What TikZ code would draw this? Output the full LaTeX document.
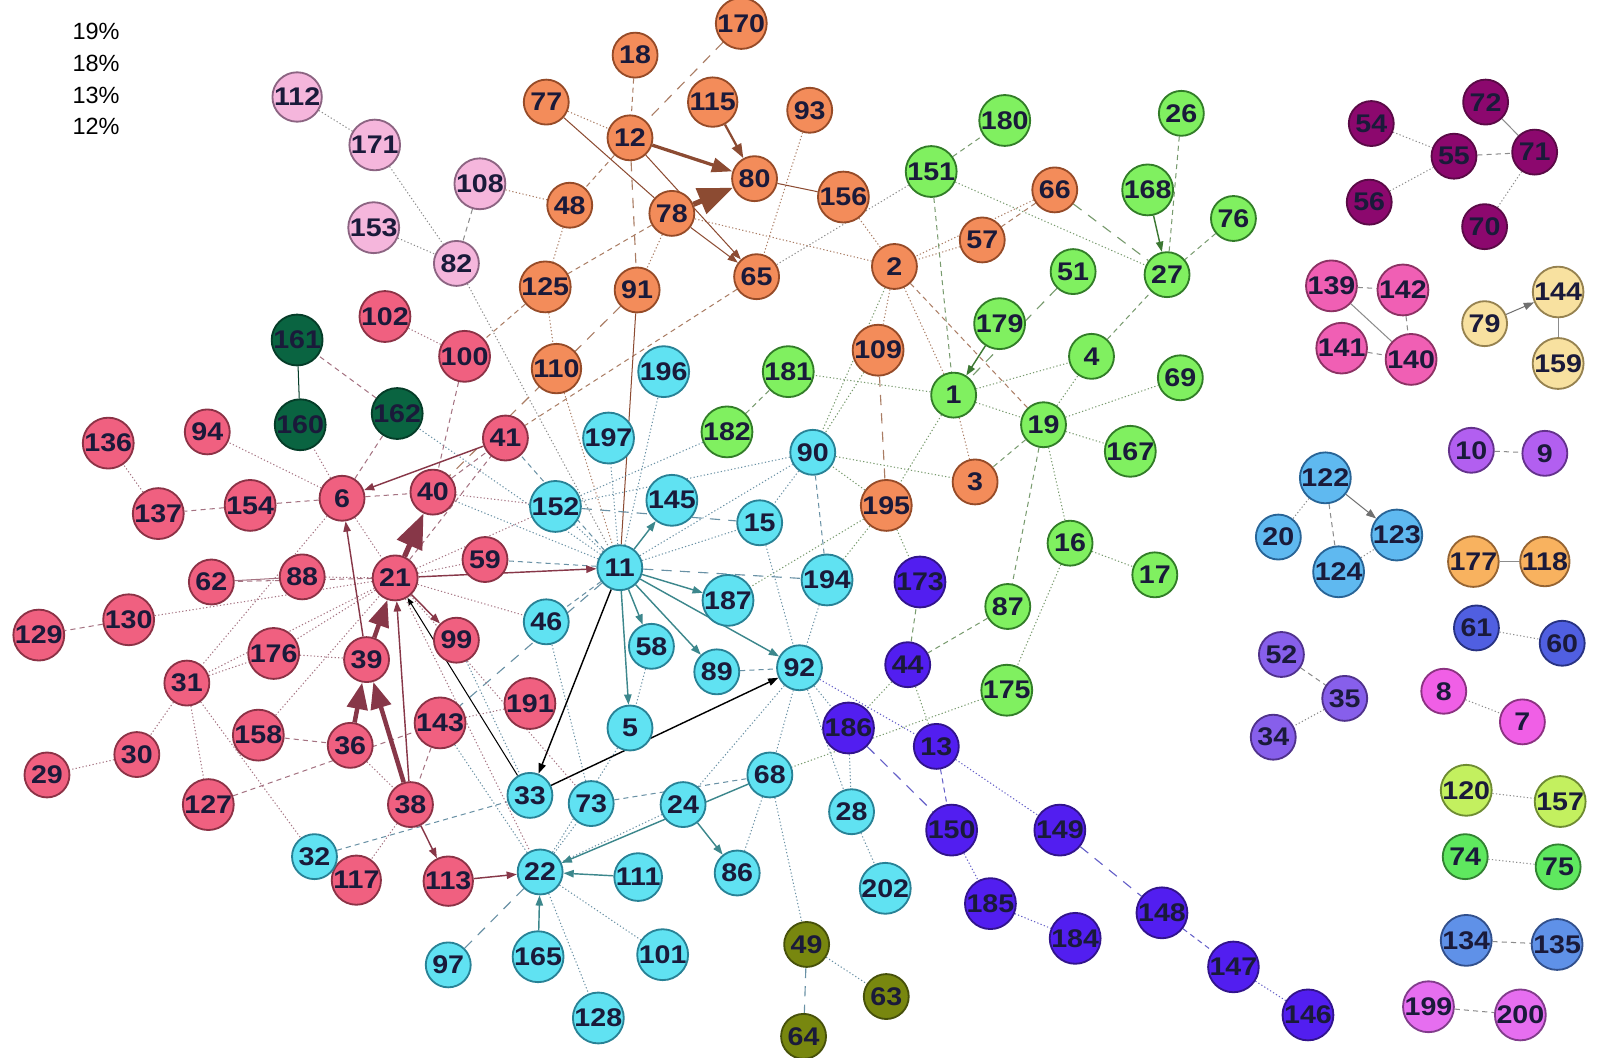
\documentclass[tikz,border=0pt]{standalone}
\usepackage{graphicx}
\usepackage{fontspec}
\setmainfont{Liberation Sans}
\usetikzlibrary{arrows.meta,backgrounds}
\definecolor{txt}{RGB}{26,26,58}
\definecolor{ora}{RGB}{243,140,90}\definecolor{orab}{RGB}{150,75,40}
\definecolor{grn}{RGB}{128,240,96}\definecolor{grnb}{RGB}{50,125,40}
\definecolor{cya}{RGB}{96,226,242}\definecolor{cyab}{RGB}{40,130,150}
\definecolor{rdp}{RGB}{240,96,128}\definecolor{rdpb}{RGB}{140,50,70}
\definecolor{lil}{RGB}{245,182,220}\definecolor{lilb}{RGB}{140,100,130}
\definecolor{dgr}{RGB}{10,100,65}\definecolor{dgrb}{RGB}{5,60,40}
\definecolor{dpu}{RGB}{140,8,110}\definecolor{dpub}{RGB}{90,10,70}
\definecolor{pnk}{RGB}{240,95,180}\definecolor{pnkb}{RGB}{140,50,100}
\definecolor{yel}{RGB}{248,225,160}\definecolor{yelb}{RGB}{150,130,80}
\definecolor{vio}{RGB}{178,95,240}\definecolor{viob}{RGB}{100,50,140}
\definecolor{sky}{RGB}{95,185,240}\definecolor{skyb}{RGB}{40,100,150}
\definecolor{lor}{RGB}{248,178,95}\definecolor{lorb}{RGB}{150,100,50}
\definecolor{blu}{RGB}{80,95,225}\definecolor{blub}{RGB}{40,50,130}
\definecolor{vit}{RGB}{135,95,235}\definecolor{vitb}{RGB}{80,50,140}
\definecolor{mag}{RGB}{240,95,230}\definecolor{magb}{RGB}{140,50,130}
\definecolor{lim}{RGB}{195,240,95}\definecolor{limb}{RGB}{110,140,50}
\definecolor{gre}{RGB}{95,232,95}\definecolor{greb}{RGB}{50,130,50}
\definecolor{crn}{RGB}{95,145,232}\definecolor{crnb}{RGB}{50,80,140}
\definecolor{mgt}{RGB}{230,110,240}\definecolor{mgtb}{RGB}{130,60,140}
\definecolor{ind}{RGB}{82,30,240}\definecolor{indb}{RGB}{50,20,140}
\definecolor{olv}{RGB}{120,135,15}\definecolor{olvb}{RGB}{70,80,10}
\definecolor{ecn}{RGB}{140,140,140}
\definecolor{ecp}{RGB}{165,115,130}
\definecolor{eco}{RGB}{170,125,100}
\definecolor{ecc}{RGB}{105,145,165}
\definecolor{ecg}{RGB}{120,155,110}
\definecolor{ecb}{RGB}{100,95,200}
\definecolor{brn}{RGB}{140,75,50}
\definecolor{mar}{RGB}{135,55,72}
\definecolor{tea}{RGB}{60,135,140}
\definecolor{dgn}{RGB}{60,120,50}
\tikzset{
 nd/.style={circle, line width=0.9pt, minimum size=22pt, inner sep=0pt, text=txt,
   font=\fontsize{12.5}{13}\selectfont\bfseries},
 dt/.style={line width=0.5pt, dash pattern=on 0.6pt off 1.1pt},
 ds/.style={line width=0.5pt, dash pattern=on 2.5pt off 2pt},
 ld/.style={line width=0.55pt, dash pattern=on 5pt off 4pt},
 sl/.style={line width=0.5pt},
 ar/.style={line width=0.7pt, -{Triangle[length=5pt,width=3.6pt]}},
 legend/.style={anchor=west, font=\fontsize{11.5}{12}\selectfont},
}
\newcommand\mknode[4]{\node[nd, fill=#1, draw=#1b] (n#2) at (#3,#4) {\scalebox{1.12}[1]{#2}};}
\begin{document}
\begin{tikzpicture}[x=0.5pt,y=-0.5pt]
\useasboundingbox (0,0) rectangle (1568,1036);
\node[legend] (leg1) at (64,31) {19\%};
\node[legend] (leg2) at (64,62) {18\%};
\node[legend] (leg3) at (64,93) {13\%};
\node[legend] (leg4) at (64,124) {12\%};
\foreach \n/\x/\y in {112/291/95,171/367/142,153/366/223,108/470/180,82/447/258} {\mknode{lil}{\n}{\x}{\y}}
\foreach \n/\x/\y in {170/726/23,18/622/54,77/535/100,115/698/100,93/793/108,12/617/135,80/739/175,48/558/201,78/658/209,156/826/193,66/1033/186,57/962/235,2/876/261,65/741/271,125/534/281,91/624/284,110/545/361,109/860/343,3/955/472,195/868/495} {\mknode{ora}{\n}{\x}{\y}}
\foreach \n/\x/\y in {180/984/118,151/912/168,26/1157/111,168/1124/186,76/1208/214,27/1143/269,51/1051/266,179/979/317,4/1069/349,69/1156/370,1/934/387,181/772/364,182/712/423,19/1022/416,167/1107/442,16/1048/532,17/1131/563,87/987/594,175/986/676} {\mknode{grn}{\n}{\x}{\y}}
\foreach \n/\x/\y in {54/1343/121,72/1455/100,55/1424/153,71/1503/149,56/1341/198,70/1454/222} {\mknode{dpu}{\n}{\x}{\y}}
\foreach \n/\x/\y in {139/1304/280,142/1374/284,141/1314/341,140/1382/352} {\mknode{pnk}{\n}{\x}{\y}}
\foreach \n/\x/\y in {144/1526/286,79/1454/317,159/1526/356} {\mknode{yel}{\n}{\x}{\y}}
\foreach \n/\x/\y in {10/1441/441,9/1513/444} {\mknode{vio}{\n}{\x}{\y}}
\foreach \n/\x/\y in {122/1298/468,20/1252/526,123/1368/524,124/1311/560} {\mknode{sky}{\n}{\x}{\y}}
\foreach \n/\x/\y in {177/1443/550,118/1513/550} {\mknode{lor}{\n}{\x}{\y}}
\foreach \n/\x/\y in {61/1446/615,60/1530/630} {\mknode{blu}{\n}{\x}{\y}}
\foreach \n/\x/\y in {52/1255/641,35/1317/684,34/1247/722} {\mknode{vit}{\n}{\x}{\y}}
\foreach \n/\x/\y in {8/1414/677,7/1491/707} {\mknode{mag}{\n}{\x}{\y}}
\foreach \n/\x/\y in {120/1436/774,157/1528/785} {\mknode{lim}{\n}{\x}{\y}}
\foreach \n/\x/\y in {74/1435/839,75/1526/849} {\mknode{gre}{\n}{\x}{\y}}
\foreach \n/\x/\y in {134/1436/921,135/1525/925} {\mknode{crn}{\n}{\x}{\y}}
\foreach \n/\x/\y in {199/1399/986,200/1489/994} {\mknode{mgt}{\n}{\x}{\y}}
\foreach \n/\x/\y in {161/291/333,160/294/416,162/389/405} {\mknode{dgr}{\n}{\x}{\y}}
\foreach \n/\x/\y in {102/377/310,100/455/349,94/203/423,136/106/434,41/495/429,6/335/488,40/424/482,154/245/495,137/155/503,59/475/548,88/296/565,21/387/566,62/207/570,130/126/607,129/38/622,99/447/627,176/268/640,39/359/646,31/183/669,191/519/689,143/431/708,158/253/720,36/343/730,30/134/739,29/46/759,127/204/788,38/402/788,117/349/862,113/439/863} {\mknode{rdp}{\n}{\x}{\y}}
\foreach \n/\x/\y in {196/650/364,197/596/429,90/796/443,152/544/496,145/658/490,15/744/512,11/607/556,187/713/588,194/810/568,46/535/609,58/638/633,89/702/658,92/783/654,5/617/713,33/519/779,73/579/787,24/669/788,68/754/759,28/834/795,32/308/839,22/529/854,111/625/859,86/722/855,202/867/870,97/439/945,165/527/937,101/649/935,128/586/997} {\mknode{cya}{\n}{\x}{\y}}
\foreach \n/\x/\y in {173/901/570,44/889/651,186/831/713,13/917/731,150/932/813,149/1038/813,185/970/885,184/1053/919,148/1138/894,147/1208/947,146/1281/994} {\mknode{ind}{\n}{\x}{\y}}
\foreach \n/\x/\y in {49/790/925,63/868/976,64/787/1015} {\mknode{olv}{\n}{\x}{\y}}
\begin{scope}[on background layer]
\fill[white] (0,0) rectangle (1568,1036);
% neutral
\foreach \a/\b in {112/171,171/82,153/82,82/11,151/65,54/55,56/55,71/70,124/123,122/20,61/60,35/34,8/7,120/157,74/75} \draw[dt,ecn] (n\a) -- (n\b);
\foreach \a/\b in {108/82,55/71,139/142,142/140,141/140,10/9,122/124,52/35,134/135,199/200} \draw[ds,ecn] (n\a) -- (n\b);
\foreach \a/\b in {72/71,139/140,144/159,177/118} \draw[sl,ecn] (n\a) -- (n\b);
\foreach \a/\b in {79/144,122/123} \draw[ar,ecn!80!black,line width=0.5pt] (n\a) -- (n\b);
% orange
\foreach \a/\b in {108/48,77/12,48/125,93/65,78/91,125/110,57/2,66/2,2/78,156/2,2/109,2/1,1/3,110/11} \draw[dt,eco] (n\a) -- (n\b);
\foreach \a/\b in {18/12,12/48,78/125,125/100,66/57,65/41,2/19} \draw[ds,eco] (n\a) -- (n\b);
\foreach \a/\b in {170/12,12/91,109/195,91/40} \draw[ld,eco] (n\a) -- (n\b);
\foreach \a/\b in {77/78,80/156,91/11} \draw[sl,brn] (n\a) -- (n\b);
\foreach \a/\b in {12/65,78/65} \draw[ar,brn,line width=0.5pt] (n\a) -- (n\b);
% green
\foreach \a/\b in {151/27,1/195,195/194,1/181,1/19,1/4,195/90,195/173,195/187,90/3,109/90,2/90,19/4,19/69,19/167,19/16,16/17,16/175,175/68,44/13,44/186} \draw[dt,ecg] (n\a) -- (n\b);
\foreach \a/\b in {151/180,151/1,19/87,19/3,4/27,26/27,76/27,87/44,44/173,182/181} \draw[ds,ecg] (n\a) -- (n\b);
\foreach \a/\b in {66/27,51/1} \draw[ld,ecg] (n\a) -- (n\b);
\foreach \a/\b in {179/1,168/27} \draw[ar,dgn] (n\a) -- (n\b);
% cyan
\foreach \a/\b in {11/152,11/197,11/196,11/40,11/162,11/15,11/90,182/152,90/152,90/15,15/92,194/92,92/68,92/24,92/28,92/186,186/28,28/202,24/22,68/86,68/49,22/101,22/128,22/73,22/5,22/143,73/46,49/63,58/5,99/33} \draw[dt,ecc] (n\a) -- (n\b);
\foreach \a/\b in {11/41,11/46,11/59,90/194,89/92,73/68,32/33} \draw[ds,ecc] (n\a) -- (n\b);
\foreach \a/\b in {11/194,11/143,152/15,22/97,49/64} \draw[ld,ecc] (n\a) -- (n\b);
\foreach \a/\b in {11/145,11/187,11/92,11/89,11/58,11/5,68/22,24/86,111/22,165/22} \draw[ar,tea] (n\a) -- (n\b);
\draw[ar,black] (n11) -- (n33);
\draw[ar,black] (n33) -- (n92);
\draw[ar,black,line width=0.5pt,-{Triangle[length=3.5pt,width=2.6pt]}] (n33) -- (n21);
% blue
\foreach \a/\b in {92/13,13/149,147/146,150/185,185/184} \draw[dt,ecb] (n\a) -- (n\b);
\foreach \a/\b in {13/150,148/147} \draw[ds,ecb] (n\a) -- (n\b);
\foreach \a/\b in {186/150,149/148} \draw[ld,ecb] (n\a) -- (n\b);
% pink
\foreach \a/\b in {137/136,6/94,6/160,6/21,6/31,21/59,21/88,21/130,21/176,21/31,21/152,21/46,21/22,21/73,31/176,31/30,31/127,31/32,30/29,158/21,36/38,38/117,40/152,102/100,176/39,191/143} \draw[dt,ecp] (n\a) -- (n\b);
\foreach \a/\b in {6/40,6/154,154/137,6/162,21/62,21/41,130/129,158/36,127/143,143/38,40/41,100/40,162/161} \draw[ds,ecp] (n\a) -- (n\b);
\draw[sl,ecp] (n88) -- (n62);
\draw[sl,dgrb] (n161) -- (n160);
\foreach \a/\b in {41/6,39/6,38/21,38/113,113/22,21/99,21/11} \draw[ar,mar] (n\a) -- (n\b);
% thick arrows
\draw[brn,line width=2.6pt,-{Triangle[length=17pt,width=13pt]}] (n78) -- (n80);
\draw[brn,line width=1.6pt,-{Triangle[length=10pt,width=7pt]}] (n12) -- (n80);
\draw[brn,line width=1.1pt,-{Triangle[length=7pt,width=5pt]}] (n115) -- (n80);
\draw[mar,line width=2.6pt,-{Triangle[length=17pt,width=13pt]}] (n21) -- (n40);
\draw[mar,line width=2.2pt,-{Triangle[length=13pt,width=10pt]}] (n39) -- (n21);
\draw[mar,line width=2.2pt,-{Triangle[length=13pt,width=10pt]}] (n36) -- (n39);
\draw[mar,line width=2.2pt,-{Triangle[length=13pt,width=10pt]}] (n38) -- (n39);
\end{scope}
\end{tikzpicture}
\end{document}
